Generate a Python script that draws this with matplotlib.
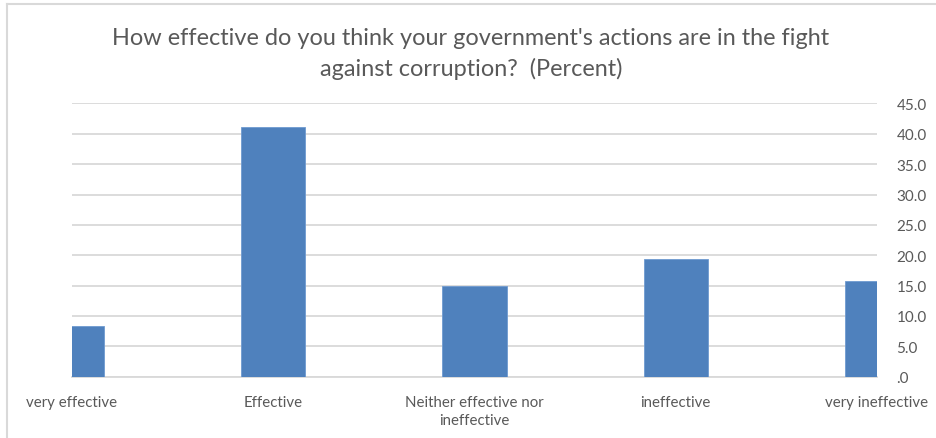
import matplotlib
matplotlib.use("Agg")
import matplotlib.pyplot as plt
from matplotlib.ticker import FuncFormatter, MultipleLocator
from matplotlib.lines import Line2D

categories = ["very effective", "Effective", "Neither effective nor\nineffective",
              "ineffective", "very ineffective"]
percent = [8.3, 41.1, 14.9, 19.3, 15.7]

title = "How effective do you think your government's actions are in the fight\nagainst corruption?  (Percent)"

plt.rcParams['font.family'] = ['Lato', 'DejaVu Sans']
text_grey = '#595959'
grid_grey = '#d9d9d9'

fig = plt.figure(figsize=(9.36, 4.39), dpi=100)
ax = fig.add_axes([0.0769, 0.140, 0.860, 0.622])

x = list(range(len(categories)))
ax.bar(x, percent, width=0.32, color='#4f81bd', edgecolor='#6f9ad0', linewidth=0.6, zorder=3)

ax.set_xlim(0, len(categories) - 1)
ax.set_ylim(0, 45)
ax.yaxis.set_major_locator(MultipleLocator(5))
ax.yaxis.set_major_formatter(FuncFormatter(lambda v, p: f"{v:.1f}".lstrip('0') if v < 1 else f"{v:.1f}"))
ax.yaxis.tick_right()
ax.grid(axis='y', color=grid_grey, linewidth=1.3, zorder=0)

ax.set_xticks(x)
ax.set_xticklabels(categories, linespacing=1.38)
ax.tick_params(axis='x', length=0, pad=13, labelsize=10.8, labelcolor=text_grey)
ax.tick_params(axis='y', length=0, pad=14, labelsize=11, labelcolor=text_grey)

for side in ['top', 'left', 'right']:
    ax.spines[side].set_visible(False)
ax.spines['bottom'].set_color(grid_grey)
ax.spines['bottom'].set_linewidth(1.3)

fig.text(0.503, 0.877, title, ha='center', va='center', fontsize=16.9,
         color=text_grey, linespacing=1.48)

# chart frame edges
fig.add_artist(Line2D([0.007, 0.007], [0, 0.988], color=grid_grey, linewidth=1.5))
fig.add_artist(Line2D([0.007, 1.0], [0.988, 0.988], color=grid_grey, linewidth=1.5))

fig.savefig("out.png", dpi=100)
